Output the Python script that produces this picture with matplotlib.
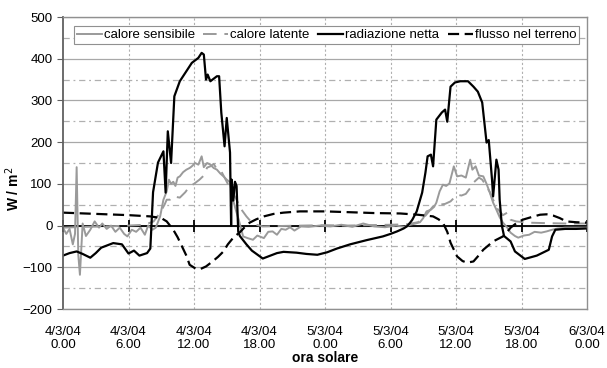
import matplotlib.pyplot as plt
import numpy as np

plt.rcParams['font.family'] = ['Liberation Sans', 'DejaVu Sans']

# ore dall'inizio della misura (4/3/04 0.00) e flussi in W/m2
rn_ore = [0, 0.6, 1.25, 1.8, 2.5, 3.0, 3.5, 4.0, 4.6, 5.4, 6.0, 6.5, 7.0, 7.7, 8.0,
          8.25, 8.7, 9.2, 9.4, 9.6, 9.9, 10.2, 10.7, 11.3, 11.8, 12.4, 12.7, 12.9,
          13.1, 13.25, 13.5, 14.1, 14.3, 14.5, 14.8, 15.0, 15.3, 15.4, 15.45, 15.6,
          15.75, 15.9, 16.05, 16.2, 16.8, 17.3, 18.3, 19.0, 19.6, 20.2, 20.8, 21.4,
          22.3, 23.3, 24.2, 25.1, 26.3, 27.8, 29.3, 30.0, 30.6, 31.2, 31.5, 31.8,
          32.0, 32.4, 32.9, 33.2, 33.4, 33.7, 33.9, 34.2, 34.7, 35.0, 35.2, 35.5,
          35.9, 36.4, 37.1, 37.6, 38.0, 38.4, 38.6, 38.8, 39.0, 39.3, 39.4, 39.7,
          39.9, 40.0, 40.2, 40.4, 41.0, 41.4, 42.3, 43.4, 44.5, 44.8, 45.1, 46.0,
          47.0, 48.0]
rn = [-72, -66, -62, -68, -77, -66, -53, -48, -42, -45, -67, -60, -72, -66, -55,
      80, 151, 178, 79, 226, 150, 310, 346, 370, 390, 402, 414, 410,
      350, 362, 346, 358, 358, 271, 190, 258, 175, 0, 110, 60,
      105, 95, -14, -25, -45, -60, -79, -72, -66, -63, -64, -65,
      -68, -70, -64, -55, -45, -35, -26, -20, -14, -7, -2, 7,
      14, 34, 79, 127, 166, 170, 142, 254, 271, 278, 249, 333,
      343, 346, 346, 333, 321, 295, 247, 199, 205, 110, 70, 158,
      134, 62, 0, -25, -38, -62, -80, -72, -58, -26, -10, -8,
      -8, -7]

g_ore = [0, 2, 4, 6, 8, 9, 9.5, 10.1, 10.5, 10.9, 11.3, 11.6, 12.2, 12.6, 13.1,
         13.7, 14.2, 14.7, 15.1, 15.6, 16.2, 16.6, 17.1, 17.7, 18.4, 19.3, 20.2,
         21.7, 24, 26.3, 28.5, 30.9, 32.5, 33.9, 34.4, 34.8, 35.2, 35.5, 36.1,
         36.6, 37.0, 37.6, 38.0, 38.5, 39.4, 40.3, 40.7, 41.0, 41.5, 42.1, 43.0,
         43.7, 44.3, 44.9, 45.5, 46.1, 47, 48]
g = [31, 29, 27, 25, 22, 18, 10, -10, -28, -50, -72, -94, -104, -104, -98,
     -86, -75, -62, -45, -29, -16, -5, 7, 15, 22, 28, 31,
     34, 34, 32, 30, 29, 26, 22, 15, 7, -15, -41, -74,
     -85, -89, -86, -74, -58, -38, -26, -15, -5, 5, 14, 21,
     26, 27, 24, 18, 10, 8, 7]

h_ore = [0, 0.3, 0.6, 0.9, 1.1, 1.25, 1.4, 1.55, 1.8, 2.1, 2.5, 2.9, 3.3, 3.6, 4.0,
         4.4, 4.8, 5.2, 5.6, 5.9, 6.3, 6.7, 7.1, 7.5, 7.8, 8.2, 8.5, 8.9, 9.2, 9.5,
         9.7, 9.9, 10.1, 10.3, 10.5, 10.7, 11.0, 11.3, 11.6, 11.8, 12.1, 12.4, 12.7,
         12.9, 13.2, 13.5, 13.8, 14.1, 14.4, 14.7, 15.0, 15.3, 15.5, 15.8, 16.1,
         16.5, 16.9, 17.4, 17.8, 18.4, 18.8, 19.2, 19.6, 20.0, 20.4, 20.8, 21.2,
         21.8, 22.5, 23.5, 24.5, 25.5, 26.5, 27.5, 28.5, 29.5, 30.5, 31.3, 31.8,
         32.3, 32.7, 33.0, 33.3, 33.7, 34.0, 34.2, 34.5, 34.8, 35.1, 35.4, 35.8,
         36.1, 36.5, 36.9, 37.3, 37.5, 37.8, 38.1, 38.5, 38.8, 39.1, 39.4, 39.7,
         40.0, 40.3, 40.7, 41.0, 41.4, 41.7, 42.2, 42.7, 43.2, 43.8, 44.3, 44.8,
         45.3, 46, 47, 48]
h = [-5, -20, -8, -45, -20, 140, -70, -118, 5, -25, -10, 10, -5, 5, -8,
     0, -15, -5, -20, -26, -10, -15, -5, -22, 0, -10, -5, 22, 62, 82,
     110, 100, 105, 95, 115, 118, 128, 134, 138, 142, 150, 146, 166,
     140, 150, 146, 138, 134, 125, 118, 110, 104, 70, 40, 14,
     -26, -30, -34, -24, -30, -15, -14, -22, -8, -10, -4, -12,
     -2, -3, 0, -2, 2, -3, 5, -2, -4, 0, -3, 2,
     5, 8, 18, 34, 38, 45, 55, 82, 98, 95, 101, 142,
     118, 120, 115, 158, 134, 142, 120, 118, 100, 79, 55, 38,
     20, 7, -5, -17, -25, -29, -24, -22, -15, -17, -14, -10,
     -7, -5, -5, -5]

le_ore = [0, 2, 4, 6, 7.5, 8.3, 8.9, 9.3, 9.5, 9.8, 10.1, 10.7, 11.2, 11.6, 12.0,
          12.5, 12.9, 13.2, 13.5, 13.8, 14.1, 14.5, 14.9, 15.3, 15.9, 16.3, 16.8,
          17.2, 17.7, 18.3, 20, 22, 24, 26, 28, 30, 31.5, 32.5, 32.9, 33.4, 33.9,
          34.5, 35.0, 35.5, 36.1, 36.5, 36.9, 37.3, 37.6, 38.1, 38.4, 38.7, 39.1,
          39.4, 39.8, 40.3, 40.7, 41.0, 41.5, 42.6, 44, 46, 48]
le = [-5, -3, -2, 0, 2, 10, 31, 50, 62, 62, 70, 67, 80, 94, 100,
      110, 120, 139, 142, 148, 135, 130, 110, 90, 62, 40, 22,
      10, 2, -2, -1, 0, 1, 0, 1, 2, 3, 8, 14, 30, 46,
      50, 52, 58, 74, 72, 76, 90, 103, 115, 110, 98, 80,
      62, 40, 25, 31, 14, 10, 7, 6, 5, 5]

tick_ore = [0, 6, 12, 18, 24, 30, 36, 42, 48]
tick_lab = ['4/3/04\n0.00', '4/3/04\n6.00', '4/3/04\n12.00', '4/3/04\n18.00',
            '5/3/04\n0.00', '5/3/04\n6.00', '5/3/04\n12.00', '5/3/04\n18.00',
            '6/3/04\n0.00']

fig = plt.figure(figsize=(6.07, 3.68), dpi=100)
ax = fig.add_axes([63 / 607, 1 - 309 / 368, 524 / 607, 292 / 368])

grigio = '#9a9a9a'
ax.plot(h_ore, h, color=grigio, lw=1.4, label='calore sensibile')
ax.plot(le_ore, le, color=grigio, lw=1.4, dashes=(7, 4), label='calore latente')
ax.plot(rn_ore, rn, color='black', lw=1.6, label='radiazione netta')
ax.plot(g_ore, g, color='black', lw=1.6, dashes=(5, 2.5), label='flusso nel terreno')

# griglia stile foglio di calcolo
for v in range(-200, 501, 100):
    ax.axhline(v, color='#a8a8a8', lw=0.9, zorder=0)
for v in range(-150, 500, 100):
    ax.axhline(v, color='#b0b0b0', lw=0.9, dashes=(5, 3, 1.5, 3), zorder=0)
for t in tick_ore[1:-1]:
    ax.axvline(t, color='#b0b0b0', lw=0.8, dashes=(2, 2), zorder=0)

# asse delle ore sullo zero
ax.axhline(0, color='black', lw=1.3, zorder=1)
ax.plot(tick_ore, [0] * len(tick_ore), ls='none', marker='|', ms=8, mew=1.3,
        color='black', zorder=1, clip_on=False)

ax.set_xlim(0, 48)
ax.set_ylim(-200, 500)
ax.set_yticks(range(-200, 501, 100))
ax.set_xticks(tick_ore)
ax.set_xticklabels(tick_lab, linespacing=1.15)
ax.tick_params(axis='x', length=0, labelsize=9.5, pad=12)
ax.tick_params(axis='y', length=4, labelsize=9.5, color='#606060')

for s in ['top', 'right', 'bottom']:
    ax.spines[s].set_color('#909090')
    ax.spines[s].set_linewidth(1.0)
ax.spines['left'].set_color('#606060')
ax.spines['left'].set_linewidth(1.3)

ax.set_xlabel('ora solare', fontsize=10, fontweight='bold', labelpad=0)
ax.set_ylabel('W / m$^2$', fontsize=10, fontweight='bold')
ax.yaxis.set_label_coords(-0.078, 0.41)

leg = ax.legend(loc='upper center', bbox_to_anchor=(0.503, 0.968), ncol=4,
                fontsize=9.5, handlelength=1.9, handletextpad=0.15,
                columnspacing=0.65, borderpad=0.2, borderaxespad=0,
                fancybox=False, framealpha=1, edgecolor='#909090')
leg.get_frame().set_linewidth(0.8)

fig.savefig('out.png', dpi=100)
